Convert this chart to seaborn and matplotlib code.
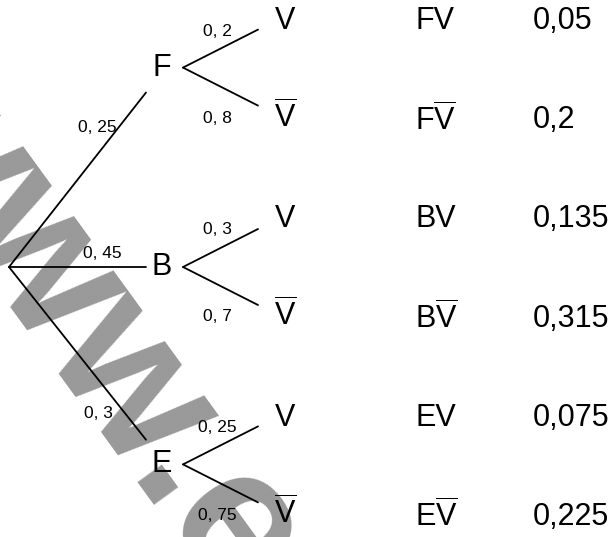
import numpy as np
import pandas as pd
import matplotlib
matplotlib.use("Agg")
import matplotlib.pyplot as plt
import seaborn as sns

# first level of the tree
nodes = ["F", "B", "E"]
p_node = ["0, 25", "0, 45", "0, 3"]
# second level: V / V-bar for each node
p_v = ["0, 2", "0, 3", "0, 25"]
p_vbar = ["0, 8", "0, 7", "0, 75"]
# right column
outcomes = ["FV", r"F$\overline{\mathrm{V}}$", "BV", r"B$\overline{\mathrm{V}}$",
            "EV", r"E$\overline{\mathrm{V}}$"]
products = ["0,05", "0,2", "0,135", "0,315", "0,075", "0,225"]

sns.set_theme(style="white")
plt.rcParams["font.family"] = ["Liberation Sans", "DejaVu Sans"]
plt.rcParams["text.color"] = "black"
plt.rcParams["mathtext.fontset"] = "custom"
plt.rcParams["mathtext.rm"] = "Liberation Sans"
plt.rcParams["mathtext.it"] = "Liberation Sans:italic"

W, H = 615, 537
fig = plt.figure(figsize=(W / 100, H / 100), dpi=100)
ax = fig.add_axes([0, 0, 1, 1])
ax.set_xlim(0, W)
ax.set_ylim(H, 0)
ax.axis("off")

# layout (pixels)
row0, row_gap = 21, 99.2
root = (9, 267)
x_end1, x_node, x_fork, x_leaf_end, x_leaf = 146, 162, 183, 258, 285
x_name, x_val = 415, 533

rows = [row0 + row_gap * i for i in range(6)]
node_y = [(rows[2 * i] + rows[2 * i + 1]) / 2 - 3 for i in range(3)]
node_y[1] = root[1]

# watermark: rotated grey text, dot placed on the baseline near (150, 499)
wm_size, wm_ang = 143, 54
fig.canvas.draw()
r = fig.canvas.get_renderer()
tmp = ax.text(0, 0, "www", fontsize=wm_size, fontweight="bold")
w_www = tmp.get_window_extent(r).width
tmp.set_text(".")
w_dot = tmp.get_window_extent(r).width
tmp.remove()
d = w_www + w_dot / 2
ca, sa = np.cos(np.radians(wm_ang)), np.sin(np.radians(wm_ang))
ax.text(150 - d * ca, 499 - d * sa, "www.e", rotation=-wm_ang, rotation_mode="anchor",
        ha="left", va="baseline", fontsize=wm_size, fontweight="bold",
        color="#999999", zorder=0)

segs = []
for i, ny in enumerate(node_y):
    ey = ny + 0.125 * (root[1] - ny)
    segs.append({"seg": f"a{i}", "x": root[0], "y": root[1]})
    segs.append({"seg": f"a{i}", "x": x_end1, "y": ey})
    for k, dy in enumerate([-38, 38]):
        segs.append({"seg": f"b{i}{k}", "x": x_fork, "y": ny})
        segs.append({"seg": f"b{i}{k}", "x": x_leaf_end, "y": ny + dy})
df = pd.DataFrame(segs)
sns.lineplot(data=df, x="x", y="y", units="seg", estimator=None, sort=False,
             color="black", lw=1.3, ax=ax, zorder=3)

big = 22
for i, ny in enumerate(node_y):
    ax.text(x_node, ny, nodes[i], fontsize=big, ha="center", va="center", zorder=4)
    ax.text(x_leaf, rows[2 * i], "V", fontsize=big, ha="center", va="center", zorder=4)
    ax.text(x_leaf, rows[2 * i + 1] - 3, r"$\overline{\mathrm{V}}$", fontsize=big,
            ha="center", va="center", zorder=4)
    ax.text(217, rows[2 * i] + 10, p_v[i], fontsize=12.5, ha="center", va="center", zorder=4)
    ax.text(217, rows[2 * i + 1] - 2, p_vbar[i], fontsize=12.5, ha="center", va="center", zorder=4)

p1_pos = [(97, 127), (102, 253), (98, 413)]
for (px, py), lab in zip(p1_pos, p_node):
    ax.text(px, py, lab, fontsize=12.5, ha="center", va="center", zorder=4)

for rr, name, val in zip(rows, outcomes, products):
    ax.text(x_name, rr, name, fontsize=big, ha="left", va="center", zorder=4)
    ax.text(x_val, rr, val, fontsize=big, ha="left", va="center", zorder=4)

fig.savefig("out.png", dpi=100)
